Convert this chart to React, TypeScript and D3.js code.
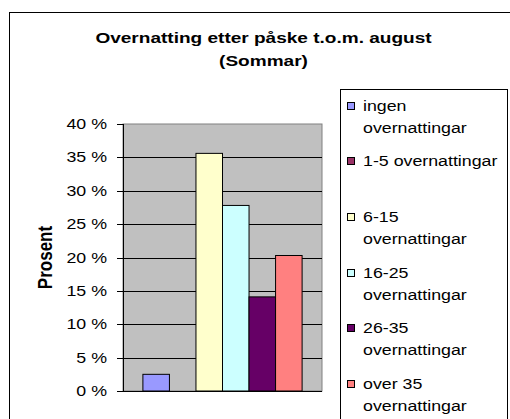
import React from 'react';
import * as d3 from 'd3';

// chart data
const titleLines = ['Overnatting etter påske t.o.m. august', '(Sommar)'];
const yAxisLabel = 'Prosent';
const categories = [''];
const seriesNames = [
  'ingen overnattingar',
  '1-5 overnattingar',
  '6-15 overnattingar',
  '16-25 overnattingar',
  '26-35 overnattingar',
  'over 35 overnattingar',
];
const legendLines = [
  ['ingen', 'overnattingar'],
  ['1-5 overnattingar'],
  ['6-15', 'overnattingar'],
  ['16-25', 'overnattingar'],
  ['26-35', 'overnattingar'],
  ['over 35', 'overnattingar'],
];
const seriesValues = [2.5, 0, 35.6, 27.8, 14.1, 20.3];
const yTicks = [0, 5, 10, 15, 20, 25, 30, 35, 40];

const seriesColors = ['#9999ff', '#993366', '#ffffcc', '#ccffff', '#660066', '#ff8080'];

const FONT = '"Liberation Sans", Arial, sans-serif';
const SX = 1.27; // the original text is set wide

function App() {
  const width = 510;
  const height = 419;
  const plot = { left: 123, right: 322, top: 124, bottom: 391 };

  const y = d3.scaleLinear().domain([0, 40]).range([plot.bottom, plot.top]);
  const x0 = d3
    .scaleBand<string>()
    .domain(categories)
    .range([plot.left, plot.right])
    .paddingInner(0.2)
    .paddingOuter(0.1);
  const x1 = d3.scaleBand<string>().domain(seriesNames).range([0, x0.bandwidth()]);

  const legendY = d3.scaleLinear().domain([0, 1]).range([101.5, 157.2]);

  return (
    <svg
      width={width}
      height={height}
      style={{ position: 'absolute', left: 0, top: 0, background: '#fff' }}
      fontFamily={FONT}
    >
      {/* chart frame */}
      <rect x={9.5} y={12.5} width={520} height={430} fill="#fff" stroke="#000" />

      {/* title */}
      {titleLines.map((t, i) => (
        <text
          key={i}
          transform={`translate(263.5,${43 + i * 23}) scale(${SX},1)`}
          textAnchor="middle"
          fontSize={15}
          fontWeight="bold"
        >
          {t}
        </text>
      ))}

      {/* plot area */}
      <rect
        x={plot.left}
        y={plot.top}
        width={plot.right - plot.left}
        height={plot.bottom - plot.top}
        fill="#c0c0c0"
        stroke="#808080"
      />
      {yTicks.map(t => (
        <g key={t}>
          <line
            x1={117}
            x2={t === 0 || t === 40 ? plot.left : plot.right}
            y1={Math.round(y(t)) + 0.5}
            y2={Math.round(y(t)) + 0.5}
            stroke="#000"
          />
          {t !== 0 && t !== 40 && (
            <line x1={117} x2={plot.right} y1={Math.round(y(t)) + 0.5} y2={Math.round(y(t)) + 0.5} stroke="#000" />
          )}
          <text
            transform={`translate(107,${y(t) + 5}) scale(${SX},1)`}
            textAnchor="end"
            fontSize={14}
          >
            {`${t} %`}
          </text>
        </g>
      ))}
      <line x1={plot.left + 0.5} x2={plot.left + 0.5} y1={plot.top} y2={plot.bottom} stroke="#000" />
      <line x1={117} x2={plot.right} y1={plot.bottom + 0.5} y2={plot.bottom + 0.5} stroke="#000" />

      {/* bars */}
      {categories.map(c =>
        seriesNames.map((s, i) =>
          seriesValues[i] > 0 ? (
            <rect
              key={s}
              x={(x0(c) ?? 0) + (x1(s) ?? 0)}
              y={y(seriesValues[i])}
              width={x1.bandwidth()}
              height={y(0) - y(seriesValues[i])}
              fill={seriesColors[i]}
              stroke="#000"
            />
          ) : null
        )
      )}

      {/* y axis title */}
      <text
        transform={`translate(51.5,${(plot.top + plot.bottom) / 2}) rotate(-90) scale(1,1.2)`}
        textAnchor="middle"
        fontSize={17}
        fontWeight="bold"
      >
        {yAxisLabel}
      </text>

      {/* legend */}
      <rect x={340.5} y={89.5} width={167} height={340} fill="#fff" stroke="#000" />
      {seriesNames.map((s, i) => {
        const top = legendY(i);
        return (
          <g key={s}>
            <rect x={347.5} y={Math.round(top) + 0.5} width={7} height={7} fill={seriesColors[i]} stroke="#000" />
            {legendLines[i].map((line, j) => (
              <text
                key={j}
                transform={`translate(363,${top + 9 + j * 22}) scale(${SX},1)`}
                fontSize={14}
              >
                {line}
              </text>
            ))}
          </g>
        );
      })}
    </svg>
  );
}

export default App;
